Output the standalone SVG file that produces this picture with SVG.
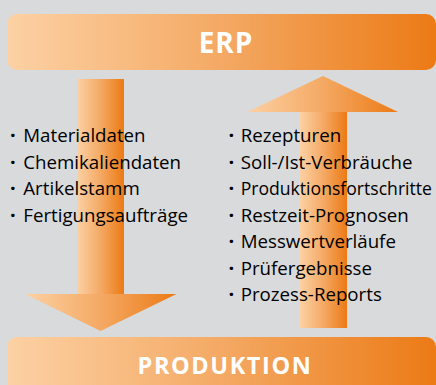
<svg xmlns="http://www.w3.org/2000/svg" width="436" height="385" viewBox="0 0 436 385">
  <defs>
    <linearGradient id="og" x1="0" y1="0" x2="1" y2="0">
      <stop offset="0" stop-color="#fcd1a4"/>
      <stop offset="0.5" stop-color="#f4a964"/>
      <stop offset="1" stop-color="#ec7a15"/>
    </linearGradient>
    <style>
      .box { fill: url(#og); }
      .arrow { fill: url(#og); }
      .title { font-family: "Open Sans", "Liberation Sans", sans-serif; font-weight: bold; fill: #ffffff; text-anchor: middle; }
      .item { font-family: "Open Sans", "Liberation Sans", sans-serif; font-size: 18.7px; fill: #000000; }
      .dot { font-weight: bold; font-size: 20px; }
    </style>
  </defs>
  <rect width="436" height="385" fill="#d9dadc"/>

  <g id="connectors">
    <g id="arrow-down">
      <rect class="arrow" x="77" y="79" width="47" height="215"/>
      <polygon class="arrow" points="25,294 176.5,294 100.5,331"/>
    </g>
    <g id="arrow-up">
      <rect class="arrow" x="300" y="111" width="47" height="217"/>
      <polygon class="arrow" points="247,112 398,112 323,76"/>
    </g>
  </g>

  <g id="erp">
    <rect class="box" x="7" y="14" width="429" height="56" rx="10"/>
    <text class="title" x="226" y="53.3" font-size="28" letter-spacing="1">ERP</text>
  </g>

  <g id="produktion">
    <rect class="box" x="7" y="337" width="429" height="60" rx="10"/>
    <text class="title" x="225" y="373.5" font-size="23.5" letter-spacing="1.6">PRODUKTION</text>
  </g>

  <g id="list-left">
    <text class="item" y="142"><tspan class="dot" x="10">·</tspan><tspan x="23.3">Materialdaten</tspan></text>
    <text class="item" y="168.7"><tspan class="dot" x="10">·</tspan><tspan x="23.3">Chemikaliendaten</tspan></text>
    <text class="item" y="195.4"><tspan class="dot" x="10">·</tspan><tspan x="23.3">Artikelstamm</tspan></text>
    <text class="item" y="222"><tspan class="dot" x="10">·</tspan><tspan x="23.3">Fertigungsaufträge</tspan></text>
  </g>

  <g id="list-right">
    <text class="item" y="142"><tspan class="dot" x="228.5">·</tspan><tspan x="240.7">Rezepturen</tspan></text>
    <text class="item" y="168.5"><tspan class="dot" x="228.5">·</tspan><tspan x="240.7">Soll-/Ist-Verbräuche</tspan></text>
    <text class="item" y="195"><tspan class="dot" x="228.5">·</tspan><tspan x="240.7" style="font-size:17.6px">Produktionsfortschritte</tspan></text>
    <text class="item" y="221.5"><tspan class="dot" x="228.5">·</tspan><tspan x="240.7">Restzeit-Prognosen</tspan></text>
    <text class="item" y="248"><tspan class="dot" x="228.5">·</tspan><tspan x="240.7">Messwertverläufe</tspan></text>
    <text class="item" y="274.5"><tspan class="dot" x="228.5">·</tspan><tspan x="240.7">Prüfergebnisse</tspan></text>
    <text class="item" y="301"><tspan class="dot" x="228.5">·</tspan><tspan x="240.7">Prozess-Reports</tspan></text>
  </g>
</svg>
